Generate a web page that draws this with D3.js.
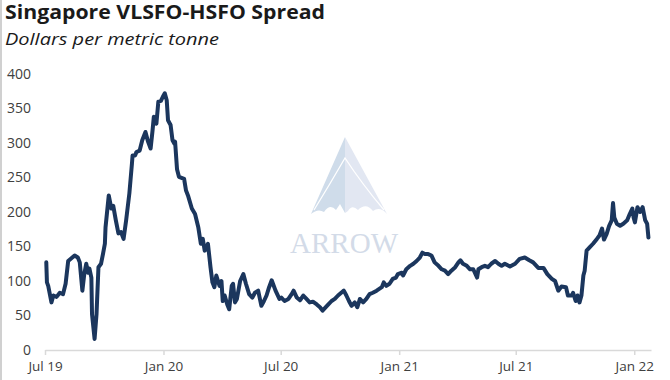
<!DOCTYPE html>
<html>
<head>
<meta charset="utf-8">
<script src="https://cdn.jsdelivr.net/npm/d3@7"></script>
<style>
  html, body { margin: 0; padding: 0; background: #fff; }
  svg { display: block; }
</style>
</head>
<body>
<svg id="chart" width="670" height="380"></svg>
<script>
// ---- Data ----
const title = "Singapore VLSFO-HSFO Spread";
const subtitle = "Dollars per metric tonne";
const yTicks = [0, 50, 100, 150, 200, 250, 300, 350, 400];
const xTicks = ["2019-07-01", "2020-01-01", "2020-07-01", "2021-01-01", "2021-07-01", "2022-01-01"];
const xDomain = ["2019-07-01", "2022-01-27"];

const dates = [
  "2019-07-03","2019-07-04","2019-07-06","2019-07-11","2019-07-14","2019-07-19","2019-07-24","2019-07-29",
  "2019-08-02","2019-08-06","2019-08-11","2019-08-16","2019-08-21","2019-08-24","2019-08-28","2019-08-31",
  "2019-09-03","2019-09-06","2019-09-08","2019-09-11","2019-09-12","2019-09-16","2019-09-19","2019-09-22",
  "2019-09-26","2019-09-29","2019-10-02","2019-10-03","2019-10-08","2019-10-12","2019-10-15","2019-10-19",
  "2019-10-23","2019-10-27","2019-10-31","2019-11-04","2019-11-09","2019-11-13","2019-11-14","2019-11-18",
  "2019-11-20","2019-11-25","2019-11-29","2019-12-04","2019-12-08","2019-12-12","2019-12-15","2019-12-17",
  "2019-12-21","2019-12-24","2019-12-28","2019-12-31","2020-01-03","2020-01-06","2020-01-08","2020-01-12",
  "2020-01-15","2020-01-18","2020-01-19","2020-01-22","2020-01-25","2020-02-02","2020-02-05","2020-02-08",
  "2020-02-14","2020-02-19","2020-02-24","2020-02-28","2020-03-02","2020-03-05","2020-03-10","2020-03-14",
  "2020-03-17","2020-03-20","2020-03-23","2020-03-28","2020-03-31","2020-04-02","2020-04-05","2020-04-09",
  "2020-04-12","2020-04-16","2020-04-18","2020-04-21","2020-04-24","2020-04-29","2020-05-04","2020-05-08",
  "2020-05-13","2020-05-18","2020-05-22","2020-05-27","2020-06-01","2020-06-05","2020-06-09","2020-06-13",
  "2020-06-17","2020-06-19","2020-06-23","2020-06-29","2020-07-02","2020-07-07","2020-07-13","2020-07-18",
  "2020-07-21","2020-07-26","2020-07-31","2020-08-05","2020-08-10","2020-08-15","2020-08-20","2020-08-26",
  "2020-08-31","2020-09-04","2020-09-09","2020-09-13","2020-09-18","2020-09-23","2020-09-28","2020-10-03",
  "2020-10-07","2020-10-11","2020-10-15","2020-10-19","2020-10-24","2020-10-28","2020-11-01","2020-11-06",
  "2020-11-11","2020-11-16","2020-11-21","2020-11-27","2020-12-05","2020-12-08","2020-12-12","2020-12-17",
  "2020-12-22","2020-12-27","2020-12-30","2021-01-05","2021-01-07","2021-01-12","2021-01-18","2021-01-23",
  "2021-01-28","2021-02-02","2021-02-06","2021-02-10","2021-02-15","2021-02-20","2021-02-25","2021-03-03",
  "2021-03-08","2021-03-13","2021-03-18","2021-03-23","2021-03-29","2021-04-03","2021-04-06","2021-04-10",
  "2021-04-16","2021-04-21","2021-04-26","2021-05-02","2021-05-04","2021-05-09","2021-05-14","2021-05-19",
  "2021-05-24","2021-05-30","2021-06-04","2021-06-09","2021-06-14","2021-06-22","2021-06-30","2021-07-07",
  "2021-07-15","2021-07-22","2021-07-28","2021-08-05","2021-08-13","2021-08-19","2021-08-26","2021-08-31",
  "2021-09-05","2021-09-10","2021-09-17","2021-09-20","2021-09-26","2021-09-28","2021-10-02","2021-10-05",
  "2021-10-08","2021-10-11","2021-10-14","2021-10-16","2021-10-19","2021-10-24","2021-10-29","2021-11-04",
  "2021-11-08","2021-11-12","2021-11-15","2021-11-19","2021-11-23","2021-11-27","2021-11-29","2021-12-01",
  "2021-12-05","2021-12-10","2021-12-15","2021-12-21","2021-12-25","2021-12-29","2021-12-31","2022-01-02",
  "2022-01-06","2022-01-10","2022-01-14","2022-01-18","2022-01-21","2022-01-23"
];

const spread = [
  127, 98, 93, 69, 79, 77, 83, 81,
  96, 129, 133, 137, 134, 127, 86, 110,
  125, 112, 118, 105, 52, 16, 52, 120,
  125, 139, 154, 178, 224, 205, 209, 188,
  169, 171, 161, 188, 227, 270, 282, 282,
  287, 289, 304, 316, 302, 292, 318, 338,
  328, 360, 361, 367, 372, 362, 333, 326,
  304, 299, 302, 262, 251, 248, 231, 224,
  205, 197, 178, 154, 161, 144, 154, 120,
  98, 91, 108, 93, 100, 71, 79, 66,
  59, 93, 96, 69, 74, 100, 110, 96,
  81, 76, 83, 86, 64, 71, 79, 91,
  101, 96, 86, 74, 76, 71, 74, 81,
  86, 76, 72, 79, 74, 69, 70, 66,
  62, 57, 62, 66, 71, 74, 79, 83,
  86, 79, 71, 64, 69, 62, 74, 69,
  74, 81, 83, 86, 91, 98, 93, 96,
  103, 105, 110, 112, 108, 117, 122, 125,
  129, 134, 141, 139, 139, 137, 127, 122,
  117, 115, 110, 115, 120, 127, 130, 125,
  122, 117, 117, 105, 117, 120, 122, 120,
  125, 129, 125, 122, 125, 121, 125, 132,
  134, 130, 127, 119, 119, 110, 103, 100,
  86, 92, 91, 79, 79, 83, 71, 79,
  69, 79, 108, 115, 144, 149, 154, 161,
  166, 176, 160, 168, 180, 188, 213, 192,
  183, 180, 183, 188, 197, 205, 192, 185,
  207, 200, 207, 188, 183, 163
];

// ---- Chart ----
const parse = d3.timeParse("%Y-%m-%d");
const data = dates.map((d, i) => ({ date: parse(d), value: spread[i] }));

const svg = d3.select("#chart");
const fontStack = "'Open Sans', 'Noto Sans', sans-serif";

// frame line at far left
svg.append("line").attr("x1", 1).attr("x2", 1).attr("y1", 0).attr("y2", 380)
  .attr("stroke", "#d0d0d0").attr("stroke-width", 2);

const x = d3.scaleTime().domain(xDomain.map(parse)).range([45, 651]);
const y = d3.scaleLinear().domain([0, 400]).range([350, 74]);

// Watermark
const wm = svg.append("g").attr("class", "watermark");
wm.append("path")
  .attr("d", "M345,137 L311,214 Q318,208 324,212 Q330,203 336,210 L340,204 L345,213 Z")
  .attr("fill", "#cfdcea");
wm.append("path")
  .attr("d", "M345,137 L387,214 Q380,206 373,211 Q366,202 358,210 Q352,204 348,211 L345,213 Z")
  .attr("fill", "#e2e7f2");
wm.append("path")
  .attr("d", "M314,210 Q330,184 345,158 Q362,184 384,210")
  .attr("fill", "none").attr("stroke", "#ffffff").attr("stroke-width", 1.3);
wm.append("text")
  .attr("x", 344).attr("y", 253)
  .attr("text-anchor", "middle")
  .attr("font-family", "'Liberation Serif', 'DejaVu Serif', serif")
  .attr("font-size", 29)
  .attr("textLength", 108)
  .attr("fill", "#d3dbe8")
  .text("ARROW");

// Title
svg.append("text")
  .attr("x", 5).attr("y", 19)
  .attr("font-family", fontStack)
  .attr("font-weight", "bold")
  .attr("font-size", 19)
  .attr("textLength", 320)
  .attr("lengthAdjust", "spacingAndGlyphs")
  .attr("fill", "#1a1a1a")
  .text(title);
svg.append("text")
  .attr("x", 5).attr("y", 45)
  .attr("font-family", fontStack)
  .attr("font-style", "italic")
  .attr("font-size", 17)
  .attr("textLength", 214)
  .attr("lengthAdjust", "spacingAndGlyphs")
  .attr("fill", "#1a1a1a")
  .text(subtitle);

// Y axis
const yAxis = svg.append("g")
  .attr("transform", "translate(31,0)")
  .call(d3.axisLeft(y).tickValues(yTicks).tickSize(0).tickPadding(0));
yAxis.select(".domain").remove();
yAxis.selectAll("text")
  .attr("font-family", fontStack)
  .attr("font-size", 14)
  .attr("fill", "#404040");

// X axis
const xAxis = svg.append("g")
  .attr("transform", "translate(0,350)")
  .call(d3.axisBottom(x)
    .tickValues(xTicks.map(parse))
    .tickFormat(d3.timeFormat("%b %y"))
    .tickSize(5).tickSizeOuter(0).tickPadding(6));
xAxis.select(".domain").attr("stroke", "#d9d9d9").attr("stroke-width", 1.5);
xAxis.selectAll(".tick line").attr("stroke", "#d9d9d9").attr("stroke-width", 1.5);
xAxis.selectAll("text")
  .attr("font-family", fontStack)
  .attr("font-size", 13.5)
  .attr("fill", "#404040");

// Line
const line = d3.line().x(d => x(d.date)).y(d => y(d.value)).curve(d3.curveLinear);
svg.append("path")
  .datum(data)
  .attr("fill", "none")
  .attr("stroke", "#1b365d")
  .attr("stroke-width", 4)
  .attr("stroke-linejoin", "round")
  .attr("stroke-linecap", "round")
  .attr("d", line);
</script>
</body>
</html>
